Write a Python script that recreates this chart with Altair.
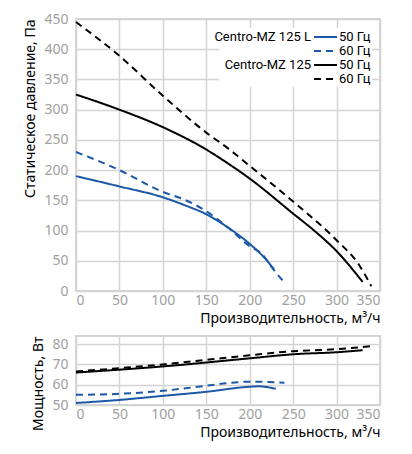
import altair as alt
import pandas as pd

# static pressure curves, Pa
l50_q = [0, 50, 100, 125, 150, 175, 200, 215, 228]
l50_p = [190, 173, 155, 142, 127, 105, 78, 58, 36]
l60_q = [0, 50, 100, 125, 150, 175, 200, 215, 225, 240]
l60_p = [230, 200, 164, 151, 132, 105, 74, 60, 40, 14]
m50_q = [0, 50, 100, 150, 175, 200, 250, 275, 300, 330]
m50_p = [325, 300, 271, 234, 211, 186, 128, 99, 66, 15]
m60_q = [0, 50, 100, 150, 175, 200, 250, 300, 325, 340]
m60_p = [445, 389, 323, 262, 236, 207, 148, 84, 45, 8]

# power curves, W
pl50_q = [0, 50, 100, 150, 200, 210, 230]
pl50_w = [51, 52.5, 54.5, 56.5, 59, 59.2, 58]
pl60_q = [0, 50, 100, 150, 180, 200, 240]
pl60_w = [55, 55.5, 57, 59.5, 61, 61.5, 61]
pm50_q = [0, 100, 200, 250, 300, 330]
pm50_w = [66, 69, 73, 75, 76, 77]
pm60_q = [0, 100, 200, 250, 300, 340]
pm60_w = [66.5, 70, 74.5, 76.5, 77.5, 79]

series = ['L50', 'L60', 'M50', 'M60']
colors = ['#1b58a6', '#1b58a6', '#000000', '#000000']
dashes = [[1, 0], [7, 5], [1, 0], [7, 5]]


def long_df(pairs, col):
    rows = []
    for name, qs, vs in pairs:
        for q, v in zip(qs, vs):
            rows.append({'s': name, 'q': q, col: v})
    return pd.DataFrame(rows)


press = long_df([('L50', l50_q, l50_p), ('L60', l60_q, l60_p),
                 ('M50', m50_q, m50_p), ('M60', m60_q, m60_p)], 'p')
power = long_df([('L50', pl50_q, pl50_w), ('L60', pl60_q, pl60_w),
                 ('M50', pm50_q, pm50_w), ('M60', pm60_q, pm60_w)], 'w')

color = alt.Color('s:N', scale=alt.Scale(domain=series, range=colors), legend=None)
dash = alt.StrokeDash('s:N', scale=alt.Scale(domain=series, range=dashes), legend=None)

axis_style = dict(labelColor='#a0a0a0', labelFontSize=14, labelFont='Noto Sans',
                  titleColor='#000000', titleFontSize=14, titleFont='Noto Sans',
                  titleFontWeight='normal', titleAnchor='end',
                  gridColor='#d4d4d4', gridWidth=1.5, domain=False, ticks=False)

x_title = 'Производительность, м³/ч'

top_lines = alt.Chart(press).mark_line(strokeWidth=2, interpolate='monotone').encode(
    alt.X('q:Q').scale(domain=[0, 350], nice=False)
        .axis(title=x_title, values=list(range(0, 351, 50)), titlePadding=4,
              labelPadding=2, **axis_style),
    alt.Y('p:Q').scale(domain=[0, 450], nice=False)
        .axis(title='Статическое давление, Па', values=list(range(0, 451, 50)),
              titlePadding=6, labelPadding=8, **axis_style),
    color, dash, detail='s:N'
)

# legend block
leg_models = ['Centro-MZ 125 L', '', 'Centro-MZ 125', '']
leg_freqs = ['50 Гц', '60 Гц', '50 Гц', '60 Гц']
leg = pd.DataFrame({'s': series, 'model': leg_models, 'freq': leg_freqs,
                    'row': [0, 1, 2, 3]})

leg_bg = alt.Chart(pd.DataFrame({'a': [0]})).mark_rect(color='white').encode(
    x=alt.value(143), x2=alt.value(296), y=alt.value(9), y2=alt.value(68)
)
leg_y = alt.Y('row:Q', scale=alt.Scale(domain=[0, 3], range=[18, 60]), axis=None)
leg_lines = alt.Chart(leg).mark_rule(strokeWidth=2).encode(
    x=alt.value(238), x2=alt.value(261), y=leg_y, color=color, strokeDash=dash
)
leg_model = alt.Chart(leg).mark_text(align='right', baseline='middle', fontSize=13,
                                     font='Roboto', color='black').encode(
    x=alt.value(235), y=leg_y, text='model:N'
)
leg_freq = alt.Chart(leg).mark_text(align='left', baseline='middle', fontSize=13,
                                    font='Roboto', color='black').encode(
    x=alt.value(263), y=leg_y, text='freq:N'
)

top = alt.layer(top_lines, leg_bg, leg_lines, leg_model, leg_freq).resolve_scale(
    y='independent'
).properties(width=304, height=272)

bottom = alt.Chart(power).mark_line(strokeWidth=2, interpolate='monotone').encode(
    alt.X('q:Q').scale(domain=[0, 350], nice=False)
        .axis(title=x_title, values=list(range(0, 351, 50)), titlePadding=4,
              labelPadding=2, **axis_style),
    alt.Y('w:Q').scale(domain=[50, 84], nice=False)
        .axis(title='Мощность, Вт', values=[50, 60, 70, 80], titlePadding=6,
              labelPadding=8, **axis_style),
    color, dash, detail='s:N'
).properties(width=304, height=69)

chart = alt.vconcat(top, bottom, spacing=45, bounds='flush').properties(
    padding={'left': 15, 'top': 3, 'right': 5, 'bottom': 5}
).configure_view(stroke='#c8c8c8', strokeWidth=1.5)

chart.save("out.html", embed_options={"renderer": "svg", "actions": False})
